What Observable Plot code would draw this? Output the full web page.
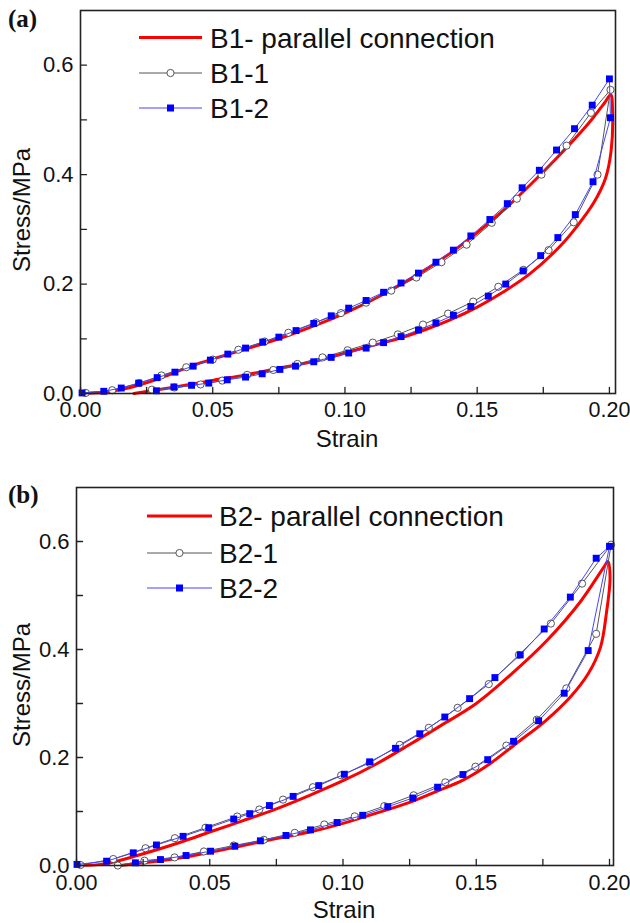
<!DOCTYPE html>
<html><head><meta charset="utf-8">
<script src="https://cdn.jsdelivr.net/npm/d3@7"></script>
<script src="https://cdn.jsdelivr.net/npm/@observablehq/plot@0.6"></script>
<style>
body{margin:0;background:#fff;}
#wrap{position:relative;width:630px;height:923px;overflow:hidden;background:#fff;}
#wrap svg{position:absolute;left:0;}
</style></head><body><div id="wrap"></div>
<script>
// ---------- Data (strain, stress in MPa) ----------
// Panel (a)
const redA = [
 [0,0],[0.008,0.002],[0.015,0.007],[0.0227,0.016],[0.03,0.028],[0.0365,0.040],[0.043,0.052],[0.05,0.063],
 [0.063,0.082],[0.0756,0.101],[0.0907,0.128],[0.10,0.147],[0.11,0.170],[0.12,0.196],[0.13,0.225],[0.14,0.257],
 [0.15,0.294],[0.16,0.335],[0.17,0.381],[0.18,0.43],[0.19,0.482],[0.194,0.505],[0.198,0.53],[0.2005,0.546],
 [0.2012,0.515],[0.2006,0.442],[0.1985,0.393],[0.194,0.348],[0.1878,0.306],[0.1815,0.27],[0.17,0.219],
 [0.16,0.186],[0.15,0.158],[0.14,0.135],[0.13,0.116],[0.12,0.1],[0.11,0.087],[0.10,0.074],[0.0907,0.061],
 [0.0768,0.048],[0.063,0.0345],[0.05,0.024],[0.0353,0.0115],[0.0202,0]
];
const b1_1 = [
 [0.002,0.001],[0.012,0.006],[0.0222,0.019],[0.0306,0.033],[0.040,0.048],[0.050,0.062],[0.0597,0.080],
 [0.0696,0.095],[0.0786,0.111],[0.089,0.130],[0.0985,0.147],[0.108,0.166],[0.1175,0.188],[0.127,0.212],
 [0.1365,0.240],[0.146,0.272],[0.1555,0.312],[0.165,0.356],[0.1743,0.40],[0.1838,0.453],[0.193,0.513],
 [0.2004,0.555],
 [0.1955,0.40],[0.1865,0.313],[0.177,0.262],[0.1675,0.226],[0.158,0.195],[0.1485,0.168],
 [0.139,0.146],[0.1295,0.126],[0.12,0.108],[0.1105,0.093],[0.101,0.079],[0.0915,0.066],[0.082,0.054],
 [0.0729,0.043],[0.063,0.034],[0.0536,0.0236],[0.0454,0.0165],[0.0355,0.011],[0.027,0.007]
];
const b1_2 = [
 [0.0006,0.001],[0.0088,0.004],[0.0154,0.010],[0.022,0.019],[0.029,0.029],[0.0357,0.039],[0.0426,0.050],
 [0.0491,0.061],[0.0557,0.072],[0.0624,0.083],[0.0689,0.094],[0.075,0.103],[0.0815,0.115],[0.0882,0.128],
 [0.0948,0.142],[0.1014,0.156],[0.108,0.170],[0.1146,0.185],[0.1212,0.202],[0.1278,0.220],[0.1344,0.240],
 [0.141,0.262],[0.1476,0.288],[0.1548,0.318],[0.1614,0.347],[0.167,0.376],[0.1735,0.408],[0.180,0.445],
 [0.1868,0.484],[0.1935,0.527],[0.2,0.575],
 [0.2004,0.504],[0.1938,0.387],[0.1871,0.327],[0.1805,0.285],[0.174,0.252],[0.1674,0.224],[0.1608,0.2],
 [0.1542,0.178],[0.1476,0.159],[0.141,0.143],[0.1344,0.129],[0.1278,0.116],[0.1212,0.104],[0.1146,0.093],
 [0.108,0.083],[0.1014,0.074],[0.0948,0.066],[0.0882,0.058],[0.0813,0.050],[0.0754,0.044],[0.0687,0.036],
 [0.0624,0.030],[0.0555,0.025],[0.0485,0.019],[0.042,0.015],[0.0353,0.012],[0.0287,0.005]
];
// Panel (b)
const redB = [
 [0,0],[0.0103,0.003],[0.0228,0.0185],[0.039,0.043],[0.05,0.062],[0.0625,0.083],[0.075,0.105],[0.0875,0.13],
 [0.10,0.157],[0.1125,0.188],[0.125,0.224],[0.137,0.26],[0.15,0.30],[0.164,0.358],[0.1766,0.417],[0.189,0.488],
 [0.1978,0.552],[0.1994,0.563],
 [0.2002,0.534],[0.1988,0.466],[0.1966,0.404],[0.192,0.355],[0.1853,0.312],[0.176,0.268],[0.165,0.226],
 [0.155,0.188],[0.145,0.158],[0.135,0.137],[0.125,0.117],[0.1125,0.097],[0.10,0.078],[0.0875,0.062],
 [0.075,0.05],[0.0625,0.037],[0.05,0.024],[0.0375,0.013],[0.025,0.005],[0.0165,0]
];
const b2_1 = [
 [0.0015,0.001],[0.0138,0.012],[0.0259,0.032],[0.0369,0.0506],[0.0484,0.070],[0.0603,0.0907],[0.0686,0.1037],
 [0.0775,0.122],[0.0887,0.145],[0.0993,0.167],[0.11,0.19],[0.1213,0.2235],[0.1322,0.255],[0.143,0.292],
 [0.1547,0.336],[0.166,0.39],[0.178,0.448],[0.1897,0.522],[0.2006,0.594],
 [0.195,0.429],[0.1838,0.328],[0.1727,0.27],[0.1613,0.222],[0.1497,0.183],[0.1384,0.154],
 [0.1265,0.13],[0.1155,0.11],[0.1044,0.091],[0.093,0.076],[0.0819,0.0605],[0.0703,0.0476],[0.059,0.037],
 [0.0478,0.026],[0.0368,0.015],[0.0255,0.009],[0.0155,0.0]
];
const b2_2 = [
 [0.0002,0.002],[0.0113,0.008],[0.0213,0.0235],[0.030,0.038],[0.040,0.054],[0.0496,0.070],[0.059,0.086],
 [0.065,0.096],[0.0724,0.111],[0.0813,0.128],[0.0909,0.148],[0.1005,0.169],[0.110,0.192],[0.1197,0.217],
 [0.1288,0.244],[0.1382,0.275],[0.1475,0.309],[0.157,0.348],[0.1665,0.39],[0.1755,0.438],[0.1853,0.497],
 [0.195,0.569],[0.2,0.591],
 [0.192,0.398],[0.183,0.319],[0.1734,0.268],[0.164,0.23],[0.1543,0.196],[0.145,0.1685],
 [0.1355,0.145],[0.1262,0.125],[0.1168,0.109],[0.1074,0.093],[0.0978,0.0796],[0.0878,0.066],[0.0786,0.0556],
 [0.069,0.0457],[0.0594,0.0357],[0.0503,0.0265],[0.0411,0.0185],[0.0315,0.011],[0.0221,0.005]
];
// Ticks
const yTickLabels = [0, 0.2, 0.4, 0.6];
const yTickMarks = [0, 0.1, 0.2, 0.3, 0.4, 0.5, 0.6];
const xTickLabels = [0, 0.05, 0.10, 0.15, 0.20];
const xTickMarks = [0, 0.025, 0.05, 0.075, 0.10, 0.125, 0.15, 0.175, 0.20];
const legendA = ["B1- parallel connection", "B1-1", "B1-2"];
const legendB = ["B2- parallel connection", "B2-1", "B2-2"];

// ---------- Drawing ----------
const FONT = "'Liberation Sans', Arial, sans-serif";
const RED = "#ff0000", BLUE = "#0000ff", BLUELINE = "#4545ff", GRAY = "#555", CIRC = "#444";
const tickShape = {draw(ctx, l) { ctx.moveTo(0, 0); ctx.lineTo(0, -l); }};
const X = d => d[0], Y = d => d[1];

function panel(red, s1, s2, o) {
  return Plot.plot({
    width: 630, height: o.height,
    marginLeft: o.ml, marginRight: o.mr, marginTop: o.mt, marginBottom: o.mb,
    x: {domain: [0, o.xmax]},
    y: {domain: [0, 0.7]},
    style: {fontFamily: FONT, color: "#111", background: "transparent", overflow: "visible"},
    marks: [
      Plot.line(red, {x: X, y: Y, stroke: RED, strokeWidth: 3, curve: "catmull-rom"}),
      Plot.line(s1, {x: X, y: Y, stroke: GRAY, strokeWidth: 1}),
      Plot.dot(s1, {x: X, y: Y, r: 3.6, fill: "#fff", stroke: CIRC, strokeWidth: 0.9}),
      Plot.line(s2, {x: X, y: Y, stroke: BLUELINE, strokeWidth: 1}),
      Plot.dot(s2, {x: X, y: Y, symbol: "square", r: 3.9, fill: BLUE, stroke: "none"}),
      Plot.frame({stroke: "#222", strokeWidth: 1.6}),
      Plot.vector(yTickMarks, {y: d => d, frameAnchor: "left", length: 6, rotate: 90, anchor: "start", shape: tickShape, stroke: "#222", strokeWidth: 1.3}),
      Plot.vector(xTickMarks, {x: d => d, frameAnchor: "bottom", length: 6, rotate: 0, anchor: "start", shape: tickShape, stroke: "#222", strokeWidth: 1.3}),
      Plot.axisY({ticks: yTickLabels, tickSize: 0, tickPadding: 7, fontSize: 22, tickFormat: d => d.toFixed(1), label: null}),
      Plot.axisX({ticks: xTickLabels, tickSize: 0, tickPadding: o.xpad, fontSize: 21.5, tickFormat: d => d.toFixed(2), label: null})
    ]
  });
}

const wrap = document.getElementById("wrap");
const pa = panel(redA, b1_1, b1_2, {height: 460, ml: 80, mr: 15, mt: 10, mb: 67, xmax: 0.2023, xpad: 8});
pa.style.top = "0px";
wrap.appendChild(pa);
const pb = panel(redB, b2_1, b2_2, {height: 463, ml: 76, mr: 17, mt: 27, mb: 58, xmax: 0.2015, xpad: 9});
pb.style.top = "460px";
wrap.appendChild(pb);

// ---------- Overlay: legends, titles, panel labels ----------
const ov = d3.select(wrap).append("svg").attr("width", 630).attr("height", 923).style("top", "0px");

function legend(labels, ys, x1, x2, tx) {
  const g = ov.append("g");
  ys.forEach((y, i) => {
    const stroke = i === 0 ? RED : i === 1 ? GRAY : BLUELINE;
    g.append("line").attr("x1", x1).attr("x2", x2).attr("y1", y).attr("y2", y)
      .attr("stroke", stroke).attr("stroke-width", i === 0 ? 3 : 1);
    const cx = (x1 + x2) / 2;
    if (i === 1) g.append("circle").attr("cx", cx).attr("cy", y).attr("r", 3.6).attr("fill", "#fff").attr("stroke", CIRC).attr("stroke-width", 0.9);
    if (i === 2) g.append("rect").attr("x", cx - 3.5).attr("y", y - 3.5).attr("width", 7).attr("height", 7).attr("fill", BLUE);
    g.append("text").attr("x", tx).attr("y", y + 10).attr("font-family", FONT).attr("font-size", 28).attr("fill", "#111").text(labels[i]);
  });
}
legend(legendA, [37.5, 73, 108], 139, 202, 210);
legend(legendB, [516, 553, 588], 147, 212, 219);

function title(text, x, y, rot) {
  const t = ov.append("text").attr("font-family", FONT).attr("font-size", 24).attr("fill", "#111")
    .attr("text-anchor", "middle").text(text);
  if (rot) t.attr("transform", `translate(${x},${y}) rotate(-90)`);
  else t.attr("x", x).attr("y", y);
}
title("Strain", 347, 447, false);
title("Strain", 344, 918, false);
title("Stress/MPa", 30, 210, true);
title("Stress/MPa", 30, 685, true);

function plabel(text, x, y) {
  ov.append("text").attr("x", x).attr("y", y).attr("font-family", "'Liberation Serif', 'Times New Roman', serif")
    .attr("font-weight", "bold").attr("font-size", 25).attr("fill", "#111").text(text);
}
plabel("(a)", 8, 27);
plabel("(b)", 8, 503);
</script></body></html>
